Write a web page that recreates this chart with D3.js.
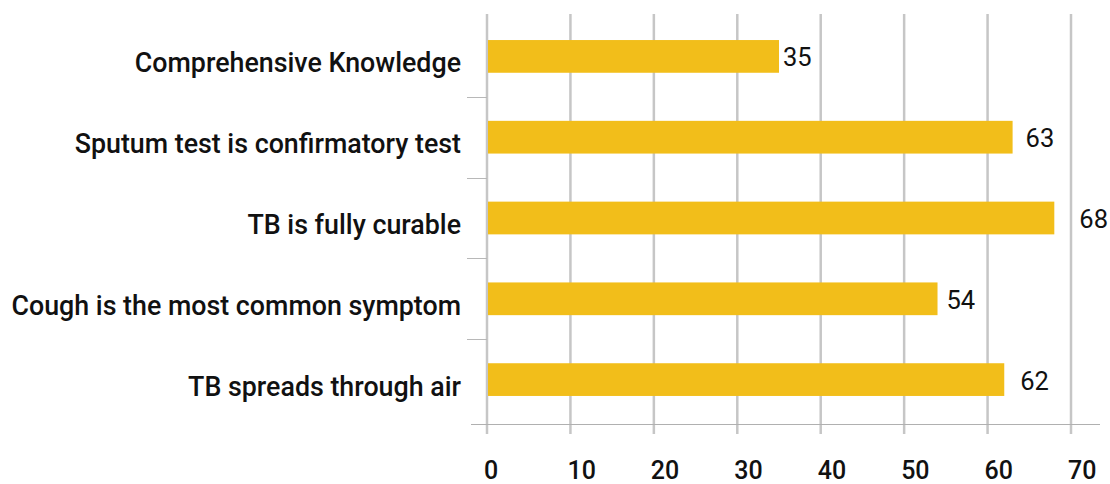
<!DOCTYPE html>
<html>
<head>
<meta charset="utf-8">
<script src="https://cdn.jsdelivr.net/npm/d3@7"></script>
<style>
  html, body { margin: 0; padding: 0; background: #fff; }
  svg { display: block; font-family: Roboto, "Noto Sans", sans-serif; }
</style>
</head>
<body>
<svg id="chart" width="1110" height="484"></svg>
<script>
const categories = [
  "Comprehensive Knowledge",
  "Sputum test is confirmatory test",
  "TB is fully curable",
  "Cough is the most common symptom",
  "TB spreads through air"
];
const values = [35, 63, 68, 54, 62];
const tickValues = [0, 10, 20, 30, 40, 50, 60, 70];

// layout
const x0 = 487, x1 = 1071;
const yTop = 16, yBottom = 420;
const labelDx = [4, 13, 25, 9, 16];

const svg = d3.select("#chart");
const x = d3.scaleLinear().domain([0, 70]).range([x0, x1]);
const y = d3.scaleBand().domain(categories).range([yTop, yBottom]).padding(0);
const barH = y.bandwidth() * 0.405;

// vertical gridlines
svg.append("g").selectAll("line").data(tickValues).join("line")
  .attr("x1", d => x(d)).attr("x2", d => x(d))
  .attr("y1", 14).attr("y2", 434)
  .attr("stroke", "#c6c6c6").attr("stroke-width", 2.5);

// left category tick marks (between bands)
svg.append("g").selectAll("line").data(categories.slice(1)).join("line")
  .attr("x1", 467).attr("x2", x0)
  .attr("y1", d => Math.round(y(d)) + 0.5).attr("y2", d => Math.round(y(d)) + 0.5)
  .attr("stroke", "#b8b8b8").attr("stroke-width", 1);

// bottom baseline
svg.append("line")
  .attr("x1", 471).attr("x2", 1100)
  .attr("y1", 424.5).attr("y2", 424.5)
  .attr("stroke", "#b0b0b0").attr("stroke-width", 1);

// bars
svg.append("g").selectAll("rect").data(values).join("rect")
  .attr("x", x(0) + 1)
  .attr("y", (d, i) => y(categories[i]) + y.bandwidth() / 2 - barH / 2)
  .attr("width", d => x(d) - x(0) - 1)
  .attr("height", barH)
  .attr("fill", "#F2BE1A");

// value labels
svg.append("g").selectAll("text").data(values).join("text")
  .attr("x", (d, i) => x(d) + labelDx[i])
  .attr("y", (d, i) => y(categories[i]) + y.bandwidth() / 2 + 10)
  .attr("font-size", 25.5)
  .attr("font-weight", 400)
  .attr("fill", "#111")
  .text(d => d);

// category labels
svg.append("g").selectAll("text").data(categories).join("text")
  .attr("x", 461)
  .attr("y", d => y(d) + y.bandwidth() / 2 + 16)
  .attr("text-anchor", "end")
  .attr("font-size", 26.8)
  .attr("font-weight", 500)
  .attr("fill", "#111")
  .text(d => d);

// x tick labels
svg.append("g").selectAll("text").data(tickValues).join("text")
  .attr("x", d => x(d) - 3)
  .attr("y", 479)
  .attr("font-size", 25)
  .attr("font-weight", 500)
  .attr("fill", "#111")
  .text(d => d);
</script>
</body>
</html>
